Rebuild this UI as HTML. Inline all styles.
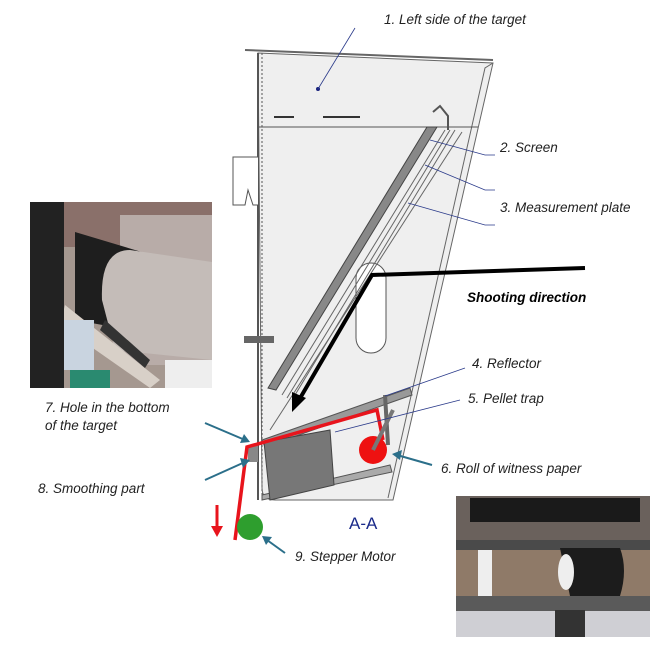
<!DOCTYPE html>
<html><head><style>
body{margin:0;background:#fff}
svg text{font-family:"Liberation Sans",sans-serif;font-style:italic;font-size:13.5px;fill:#222}
</style></head><body>
<svg width="670" height="653" viewBox="0 0 670 653" xmlns="http://www.w3.org/2000/svg">
<!-- left photo -->
<g>
<rect x="30" y="202" width="182" height="186" fill="#a59890"/>
<rect x="30" y="202" width="182" height="45" fill="#8a706a"/>
<rect x="120" y="215" width="92" height="150" fill="#b8aca8"/>
<path d="M75 232 L175 262 L175 300 L130 330 L75 320Z" fill="#1e1e1e"/>
<path d="M102 300 Q100 250 130 250 L212 262 L212 360 L115 350Z" fill="#c4bcb8"/>
<path d="M65 305 L160 380 L150 388 L60 325Z" fill="#d8d0c8"/>
<path d="M105 320 L150 360 L145 368 L100 330Z" fill="#333"/>
<rect x="30" y="202" width="34" height="186" fill="#222"/>
<rect x="64" y="320" width="30" height="50" fill="#c9d4e0"/>
<rect x="70" y="370" width="40" height="18" fill="#2a8a70"/>
<rect x="165" y="360" width="47" height="28" fill="#eee"/>
</g>
<!-- right photo -->
<g>
<rect x="456" y="496" width="194" height="141" fill="#6a615c"/>
<rect x="470" y="498" width="170" height="24" fill="#1a1a1a"/>
<rect x="456" y="540" width="194" height="10" fill="#4a4a4a"/>
<rect x="456" y="550" width="194" height="50" fill="#8f7a68"/>
<path d="M560 548 L620 548 Q628 570 620 596 L570 596Z" fill="#1c1c1c"/>
<ellipse cx="566" cy="572" rx="8" ry="18" fill="#eee"/>
<rect x="478" y="550" width="14" height="50" fill="#eee"/>
<rect x="456" y="596" width="194" height="15" fill="#5a5a5a"/>
<rect x="456" y="611" width="194" height="26" fill="#cfcfd4"/>
<rect x="555" y="610" width="30" height="27" fill="#333"/>
</g>
<!-- body -->
<path d="M258 53 L493 63 L393 500 L275 500 Q262 500 262 488 Z" fill="#efefef" stroke="#666" stroke-width="1"/>
<path d="M493 63 L485 68 L388 498" fill="none" stroke="#666" stroke-width="1"/>
<line x1="245" y1="50" x2="493" y2="60" stroke="#666" stroke-width="2"/>
<line x1="258" y1="53" x2="258" y2="500" stroke="#555" stroke-width="2"/>
<line x1="262" y1="53" x2="262" y2="500" stroke="#555" stroke-width="1" stroke-dasharray="2 2"/>
<line x1="258" y1="127" x2="478" y2="127" stroke="#555" stroke-width="1"/>
<path d="M258 157 L233 157 L233 205 L245 205 L248 190 L253 205 L258 205" fill="#fff" stroke="#555"/>
<line x1="274" y1="117" x2="294" y2="117" stroke="#333" stroke-width="2"/>
<line x1="323" y1="117" x2="360" y2="117" stroke="#333" stroke-width="2"/>
<circle cx="318" cy="89" r="2" fill="#1a237e"/>
<!-- hole -->
<rect x="356" y="263" width="30" height="90" rx="15" fill="#fff" stroke="#555"/>
<!-- screen -->
<polygon points="427,127 437,127 276,390 268,388" fill="#888" stroke="#444"/>
<line x1="445" y1="130" x2="282" y2="395" stroke="#666" stroke-width="1"/>
<line x1="450" y1="130" x2="287" y2="398" stroke="#666" stroke-width="1"/>
<line x1="455" y1="130" x2="292" y2="400" stroke="#666" stroke-width="1"/>
<line x1="462" y1="132" x2="270" y2="430" stroke="#666" stroke-width="1"/>
<path d="M433 112 L440 106 L448 116 L448 130" fill="none" stroke="#555" stroke-width="2"/>
<rect x="244" y="336" width="30" height="7" fill="#666"/>
<!-- bottom parts -->
<path d="M262 440 L410 388 L412 395 L265 447Z" fill="#999" stroke="#555"/>
<path d="M262 495 L390 465 L392 472 L262 500Z" fill="#aaa" stroke="#555"/>
<polygon points="264,442 330,430 334,485 270,500" fill="#777" stroke="#444"/>
<line x1="385" y1="395" x2="388" y2="445" stroke="#666" stroke-width="4"/>
<path d="M248 445 L258 444 L258 462 L248 462Z" fill="#888"/>
<!-- red path -->
<polyline points="235,540 247,447 377,410 383,440" fill="none" stroke="#e8141c" stroke-width="3.5"/>
<circle cx="373" cy="450" r="14" fill="#ee1111"/>
<line x1="373" y1="450" x2="393" y2="410" stroke="#777" stroke-width="4"/>
<line x1="217" y1="505" x2="217" y2="528" stroke="#e8141c" stroke-width="3"/>
<polygon points="211,526 223,526 217,537" fill="#e8141c"/>
<circle cx="250" cy="527" r="13" fill="#2e9e2e"/>
<!-- black arrow -->
<polyline points="585,268 372,275 299,400" fill="none" stroke="#000" stroke-width="4"/>
<polygon points="292,412 292,392 306,398" fill="#000"/>
<!-- leader lines -->
<g stroke="#2a3a8a" stroke-width="0.8" fill="none">
<line x1="318" y1="89" x2="355" y2="28"/>
<polyline points="430,140 485,155 495,155"/>
<polyline points="425,165 485,190 495,190"/>
<polyline points="408,203 485,225 495,225"/>
<polyline points="385,396 465,368"/>
<polyline points="335,432 460,400"/>
</g>
<g stroke="#2b6f8a" stroke-width="2" fill="none">
<line x1="205" y1="423" x2="245" y2="440"/>
<line x1="205" y1="480" x2="245" y2="462"/>
<line x1="432" y1="465" x2="397" y2="455"/>
<line x1="285" y1="553" x2="267" y2="540"/>
</g>
<g fill="#2b6f8a">
<polygon points="250,442 240,443 244,434"/>
<polygon points="250,460 243,468 240,458"/>
<polygon points="392,454 402,450 400,460"/>
<polygon points="262,536 272,537 266,545"/>
</g>
<!-- text -->
<text x="384" y="24">1. Left side of the target</text>
<text x="500" y="152">2. Screen</text>
<text x="500" y="212">3. Measurement plate</text>
<text x="467" y="302" style="font-weight:bold;fill:#000">Shooting direction</text>
<text x="472" y="368">4. Reflector</text>
<text x="468" y="403">5. Pellet trap</text>
<text x="441" y="473">6. Roll of witness paper</text>
<text x="45" y="412">7. Hole in the bottom</text>
<text x="45" y="430">of the target</text>
<text x="38" y="493">8. Smoothing part</text>
<text x="295" y="561">9. Stepper Motor</text>
<text x="349" y="529" style="font-style:normal;font-size:17px;fill:#1a2a8a">A-A</text>
</svg>
</body></html>
